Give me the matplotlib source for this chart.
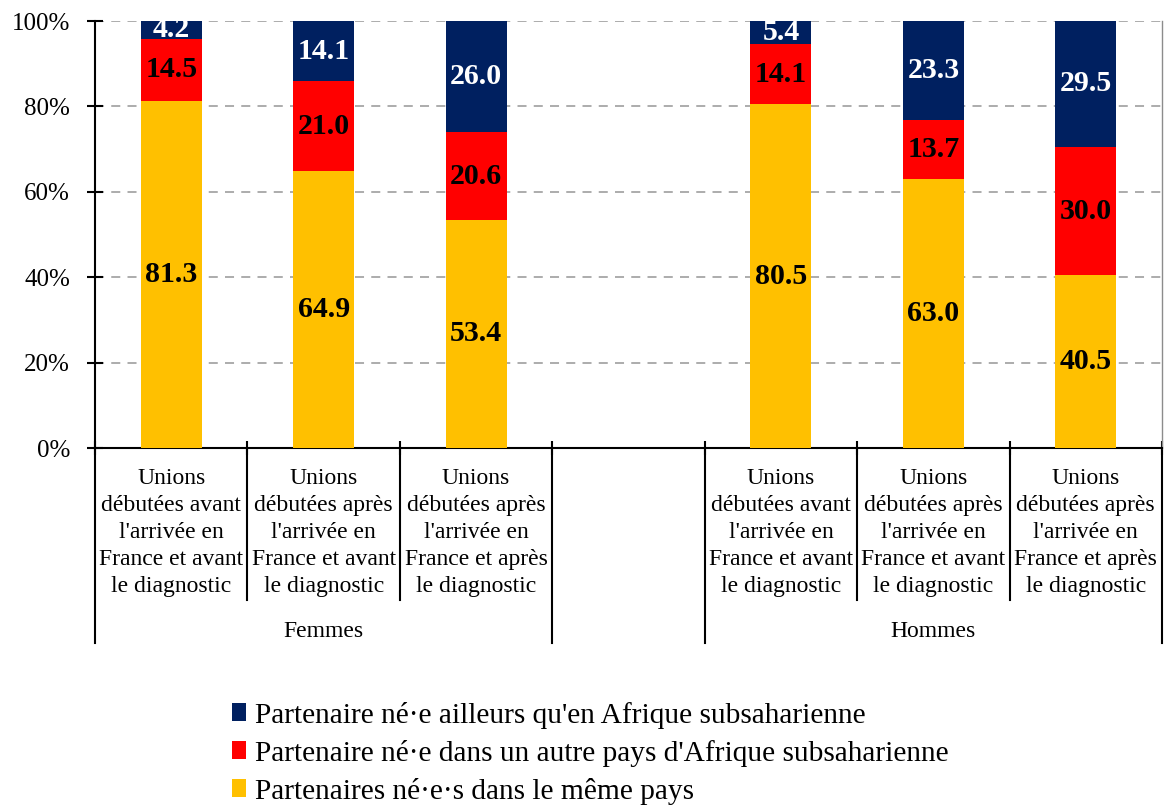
import numpy as np
import matplotlib.pyplot as plt
from matplotlib.patches import Patch
import matplotlib.transforms as mtransforms

plt.rcParams['font.family'] = ['Liberation Serif', 'DejaVu Serif']

# ---------- data ----------
categories = [
    "Unions\ndébutées avant\nl'arrivée en\nFrance et avant\nle diagnostic",
    "Unions\ndébutées après\nl'arrivée en\nFrance et avant\nle diagnostic",
    "Unions\ndébutées après\nl'arrivée en\nFrance et après\nle diagnostic",
]
groups = ["Femmes", "Hommes"]
positions = [0, 1, 2, 4, 5, 6]   # slot 3 left empty between groups

same_country = [81.3, 64.9, 53.4, 80.5, 63.0, 40.5]
other_ssa = [14.5, 21.0, 20.6, 14.1, 13.7, 30.0]
elsewhere = [4.2, 14.1, 26.0, 5.4, 23.3, 29.5]

series_labels = [
    "Partenaire né·e ailleurs qu'en Afrique subsaharienne",
    "Partenaire né·e dans un autre pays d'Afrique subsaharienne",
    "Partenaires né·e·s dans le même pays",
]
colors = ["#002060", "#FF0000", "#FFC000"]

# ---------- figure ----------
fig = plt.figure(figsize=(11.67, 8.05), dpi=100)
ax = fig.add_axes([95 / 1167, 1 - 448 / 805, 1067 / 1167, 427 / 805])

x = np.array(positions)
same = np.array(same_country)
other = np.array(other_ssa)
elsew = np.array(elsewhere)

ax.bar(x, same, width=0.4, color=colors[2], zorder=3)
ax.bar(x, other, width=0.4, bottom=same, color=colors[1], zorder=3)
ax.bar(x, elsew, width=0.4, bottom=same + other, color=colors[0], zorder=3)

for xi, s, o, e in zip(x, same, other, elsew):
    ax.text(xi, s / 2, f"{s:.1f}", ha="center", va="center",
            fontsize=21.5, fontweight="bold", color="black", zorder=4)
    ax.text(xi, s + o / 2, f"{o:.1f}", ha="center", va="center",
            fontsize=21.5, fontweight="bold", color="black", zorder=4)
    ax.text(xi, s + o + e / 2, f"{e:.1f}", ha="center", va="center",
            fontsize=21.5, fontweight="bold", color="white", zorder=4)

ax.set_xlim(-0.5, 6.5)
ax.set_ylim(0, 100)
ax.set_yticks(np.arange(0, 101, 20))
ax.set_yticklabels([f"{v}%" for v in range(0, 101, 20)], fontsize=18)
ax.yaxis.grid(True, linestyle=(0, (5, 4)), color="#a6a6a6", linewidth=1.3, zorder=0)
ax.tick_params(axis="y", direction="inout", length=12, width=1.5, pad=12)

ax.set_xticks(np.arange(-0.5, 6.6, 1))
ax.set_xticklabels([])
ax.tick_params(axis="x", direction="inout", length=10, width=1.5)

ax.spines["top"].set_visible(False)
ax.spines["right"].set_color("#8c8c8c")
ax.spines["right"].set_linewidth(1)
ax.spines["left"].set_linewidth(1.5)
ax.spines["bottom"].set_linewidth(1.5)

# category labels and separators below the axis
trans = mtransforms.blended_transform_factory(ax.transData, ax.transAxes)
for i, xi in enumerate(positions):
    ax.text(xi, -0.047, categories[i % 3], transform=trans, ha="center",
            va="top", fontsize=17, linespacing=1.38)

short_seps = [0.5, 1.5, 4.5, 5.5]
long_seps = [-0.5, 2.5, 3.5, 6.5]
for s in short_seps:
    ax.plot([s, s], [0, -0.357], transform=trans, color="black",
            linewidth=1.5, clip_on=False)
for s in long_seps:
    ax.plot([s, s], [0, -0.457], transform=trans, color="black",
            linewidth=1.5, clip_on=False)

for g, center in zip(groups, [1, 5]):
    ax.text(center, -0.43, g, transform=trans, ha="center", va="center",
            fontsize=17)

# ---------- legend ----------
handles = [Patch(facecolor=c, edgecolor="none") for c in colors]
fig.legend(handles, series_labels, loc="upper left",
           bbox_to_anchor=(217 / 1167, 1 - 687 / 805), frameon=False,
           fontsize=21.2, handlelength=0.5, handleheight=0.55,
           handletextpad=0.3, labelspacing=0.37, borderpad=0)

fig.savefig("out.png", dpi=100)
